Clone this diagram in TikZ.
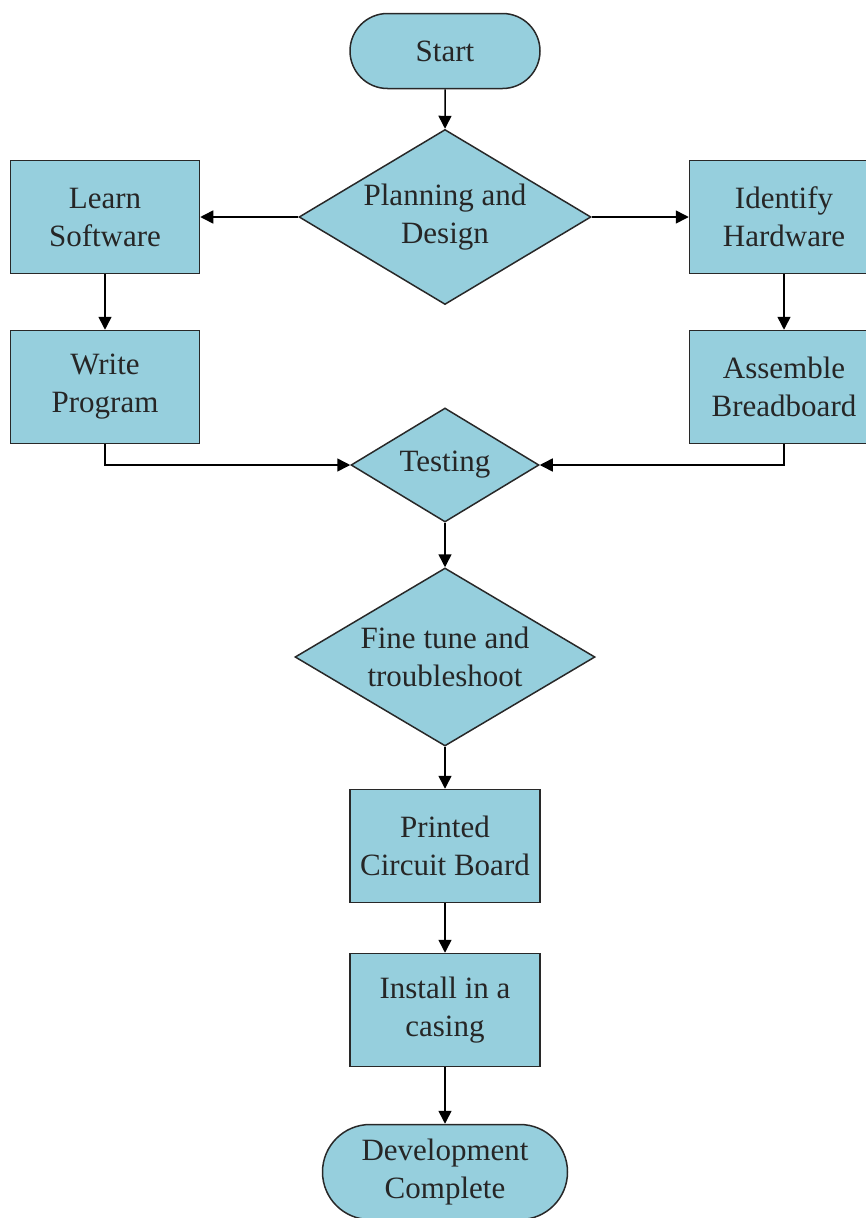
\documentclass[tikz,border=0pt]{standalone}
\usepackage{fontspec}
\setmainfont{Liberation Serif}
\usetikzlibrary{arrows.meta, shapes.geometric, shapes.misc, positioning}

\definecolor{boxfill}{RGB}{150,207,221}
\definecolor{boxline}{RGB}{40,40,40}

\begin{document}
\begin{tikzpicture}[
        x = 1pt, y = -1pt, on grid,
        >= {Triangle[length = 13pt, width = 13pt]},
        every node/.style = {font = \fontsize{31}{38}\selectfont, align = center, text = black!85,
                             draw = boxline, line width = 1.5pt, fill = boxfill, inner sep = 0pt},
        terminal/.style = {rounded rectangle, minimum width = 190pt, minimum height = 75pt},
        process/.style = {rectangle, minimum width = 189pt, minimum height = 113pt},
        decision/.style = {diamond, aspect = 1.7, minimum width = 292pt, minimum height = 175pt},
        link/.style = {->, line width = 1.5pt, draw = black}
    ]
      \useasboundingbox (0,0) rectangle (866,1218);

      \node[terminal] (start) at (445,51) {Start};
      \node[decision] (plan) [below = 166pt of start] {Planning and\\Design};
      \node[process] (learn) [left = 340pt of plan] {Learn\\Software};
      \node[process] (ident) [right = 339pt of plan] {Identify\\Hardware};
      \node[process] (write) [below = 170pt of learn] {Write\\Program};
      \node[process] (assem) [below = 170pt of ident] {Assemble\\Breadboard};
      \node[decision, minimum width = 188pt, minimum height = 114pt] (test)
            [below = 248pt of plan] {Testing};
      \node[decision, minimum width = 300pt, minimum height = 178pt] (fine)
            [below = 192pt of test] {Fine tune and\\troubleshoot};
      \node[process, minimum width = 190pt] (pcb) [below = 189pt of fine] {Printed\\Circuit Board};
      \node[process, minimum width = 190pt] (casing) [below = 164pt of pcb] {Install in a\\casing};
      \node[terminal, minimum width = 245pt, minimum height = 95pt] (done)
            [below = 162pt of casing] {Development\\Complete};

      \path[link] (start) edge (plan)
                  (plan) edge (learn)
                  (plan) edge (ident)
                  (learn) edge (write)
                  (ident) edge (assem)
                  (test) edge (fine)
                  (fine) edge (pcb)
                  (pcb) edge (casing)
                  (casing) edge (done);
      \draw[link] (write.south) |- (test.west);
      \draw[link] (assem.south) |- (test.east);
    \end{tikzpicture}
\end{document}
